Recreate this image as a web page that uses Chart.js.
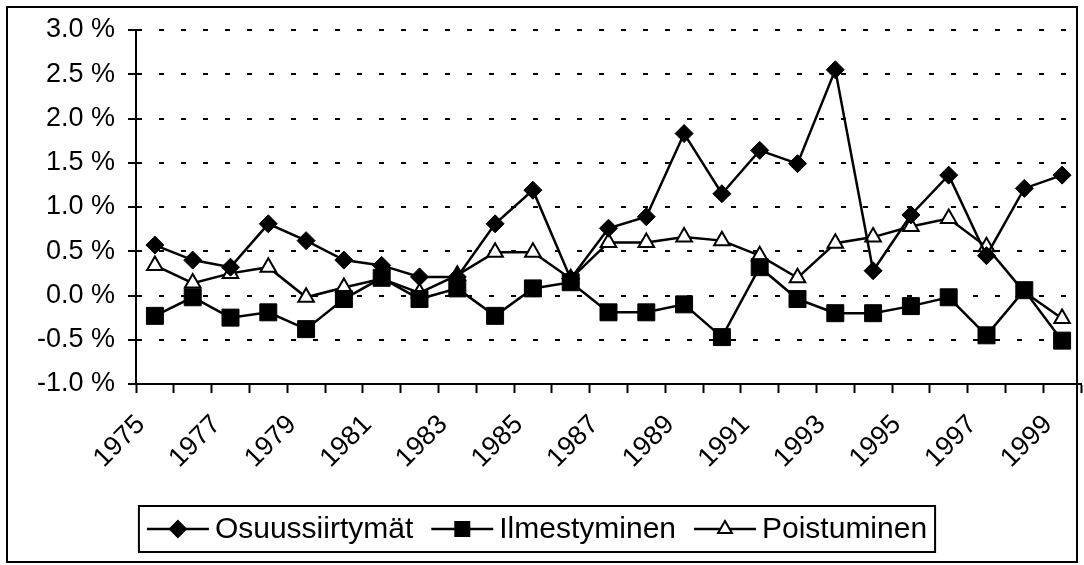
<!DOCTYPE html>
<html>
<head>
<meta charset="utf-8">
<script src="https://cdn.jsdelivr.net/npm/chart.js@4.4.0/dist/chart.umd.min.js"></script>
<style>
  html, body { margin: 0; padding: 0; background: #fff; }
  #wrap { width: 1084px; height: 565px; position: relative; }
</style>
</head>
<body>
<div id="wrap"><canvas id="chart"></canvas></div>
<script>
// Data (percent)
const years = ['1975', '1976', '1977', '1978', '1979', '1980', '1981', '1982', '1983', '1984',
               '1985', '1986', '1987', '1988', '1989', '1990', '1991', '1992', '1993', '1994',
               '1995', '1996', '1997', '1998', '1999'];
const osuussiirtymat = [0.57, 0.40, 0.32, 0.81, 0.62, 0.40, 0.34, 0.21, 0.21, 0.81,
                        1.19, 0.19, 0.76, 0.89, 1.83, 1.15, 1.64, 1.49, 2.55, 0.28,
                        0.91, 1.36, 0.45, 1.21, 1.36];
const ilmestyminen = [-0.23, -0.02, -0.25, -0.19, -0.38, -0.04, 0.20, -0.04, 0.08, -0.23,
                      0.08, 0.15, -0.19, -0.19, -0.10, -0.47, 0.32, -0.04, -0.20, -0.20,
                      -0.12, -0.02, -0.45, 0.06, -0.51];
const poistuminen = [0.34, 0.14, 0.25, 0.32, -0.02, 0.09, 0.19, 0.03, 0.23, 0.49,
                     0.49, 0.19, 0.60, 0.60, 0.66, 0.62, 0.45, 0.20, 0.59, 0.66,
                     0.78, 0.87, 0.55, 0.04, -0.26];
const yMin = -1.0;
const yMax = 3.0;
const yStep = 0.5;

const FONT = '"Liberation Sans", Arial, sans-serif';

// Outer frame of the chart
const frame = {
    id: 'frame',
    beforeDraw(chart) {
        const ctx = chart.ctx;
        ctx.save();
        ctx.fillStyle = '#fff';
        ctx.fillRect(0, 0, chart.width, chart.height);
        ctx.restore();
    },
    afterDraw(chart) {
        const ctx = chart.ctx;
        ctx.save();
        ctx.strokeStyle = '#000';
        ctx.lineWidth = 2;
        ctx.strokeRect(7, 7, 1070, 555);
        ctx.restore();
    }
};

function marker(ctx, style, x, y, fill) {
    ctx.beginPath();
    if (style === 'rectRot') {
        const r = 8;
        ctx.moveTo(x, y - r); ctx.lineTo(x + r, y); ctx.lineTo(x, y + r); ctx.lineTo(x - r, y);
    } else if (style === 'rect') {
        ctx.rect(x - 7, y - 7, 14, 14);
    } else {
        const r = 8;
        ctx.moveTo(x, y - r);
        ctx.lineTo(x + r * 0.866, y + r * 0.5);
        ctx.lineTo(x - r * 0.866, y + r * 0.5);
    }
    ctx.closePath();
    ctx.fillStyle = fill;
    ctx.fill();
    ctx.lineWidth = 2;
    ctx.strokeStyle = '#000';
    ctx.stroke();
}

// Legend: line + marker + label, inside a box under the axis
const legendBox = {
    id: 'legendBox',
    afterDraw(chart) {
        const ctx = chart.ctx;
        ctx.save();
        ctx.font = '30px ' + FONT;
        const items = chart.data.datasets.map(ds => ({
            label: ds.label, style: ds.pointStyle, fill: ds.pointBackgroundColor,
            w: ctx.measureText(ds.label).width
        }));
        const lineLen = 62, gap = 6, itemGap = 18, pad = 8;
        let total = pad * 2;
        items.forEach((it, i) => { total += lineLen + gap + it.w + (i ? itemGap : 0); });
        const cx = 537, cy = 529, h = 46;
        let x = cx - total / 2;
        ctx.strokeStyle = '#000';
        ctx.lineWidth = 2;
        ctx.strokeRect(x, cy - h / 2, total, h);
        x += pad;
        ctx.textBaseline = 'middle';
        items.forEach((it, i) => {
            if (i) x += itemGap;
            ctx.beginPath();
            ctx.moveTo(x, cy); ctx.lineTo(x + lineLen, cy);
            ctx.lineWidth = 2.5; ctx.strokeStyle = '#000';
            ctx.stroke();
            marker(ctx, it.style, x + lineLen / 2, cy, it.fill);
            x += lineLen + gap;
            ctx.fillStyle = '#000';
            ctx.fillText(it.label, x, cy + 1);
            x += it.w;
        });
        ctx.restore();
    }
};

new Chart(document.getElementById('chart'), {
    type: 'line',
    data: {
        labels: years,
        datasets: [
            {
                label: 'Osuussiirtymät', data: osuussiirtymat,
                borderColor: '#000', borderWidth: 2.5, tension: 0,
                pointStyle: 'rectRot', pointRadius: 9,
                pointBackgroundColor: '#000', pointBorderColor: '#000', pointBorderWidth: 1
            },
            {
                label: 'Ilmestyminen', data: ilmestyminen,
                borderColor: '#000', borderWidth: 2.5, tension: 0,
                pointStyle: 'rect', pointRadius: 12,
                pointBackgroundColor: '#000', pointBorderColor: '#000', pointBorderWidth: 1
            },
            {
                label: 'Poistuminen', data: poistuminen,
                borderColor: '#000', borderWidth: 2.5, tension: 0,
                pointStyle: 'triangle', pointRadius: 9,
                pointBackgroundColor: '#fff', pointBorderColor: '#000', pointBorderWidth: 2
            }
        ]
    },
    options: {
        responsive: true,
        maintainAspectRatio: false,
        devicePixelRatio: 1,
        animation: false,
        layout: { autoPadding: false, padding: { top: 30, right: 3, left: 0, bottom: 0 } },
        plugins: {
            legend: { display: false },
            tooltip: { enabled: false }
        },
        scales: {
            x: {
                offset: true,
                grid: {
                    offset: true, drawOnChartArea: false, drawTicks: true,
                    tickLength: 9, tickColor: '#000', tickWidth: 2
                },
                border: { display: true, color: '#000', width: 2 },
                ticks: {
                    autoSkip: false, maxRotation: 45, minRotation: 45,
                    color: '#000', font: { family: FONT, size: 27 },
                    padding: 16, labelOffset: -14,
                    callback: (v, i) => (i % 2 === 0 ? years[i] : '')
                },
                afterFit: axis => {
                    axis.height = 181;
                    axis.paddingLeft = 0;
                    axis.paddingRight = 0;
                }
            },
            y: {
                min: yMin, max: yMax,
                ticks: {
                    stepSize: yStep, color: '#000', padding: 13,
                    font: { family: FONT, size: 27 },
                    callback: v => v.toFixed(1) + ' %'
                },
                grid: {
                    color: '#000', lineWidth: 2,
                    drawTicks: true, tickLength: 8, tickColor: '#000', tickWidth: 2, tickBorderDash: []
                },
                border: { color: '#000', width: 2, dash: [5, 17] },
                afterFit: axis => { axis.width = 136; }
            }
        }
    },
    plugins: [frame, legendBox]
});
</script>
</body>
</html>
